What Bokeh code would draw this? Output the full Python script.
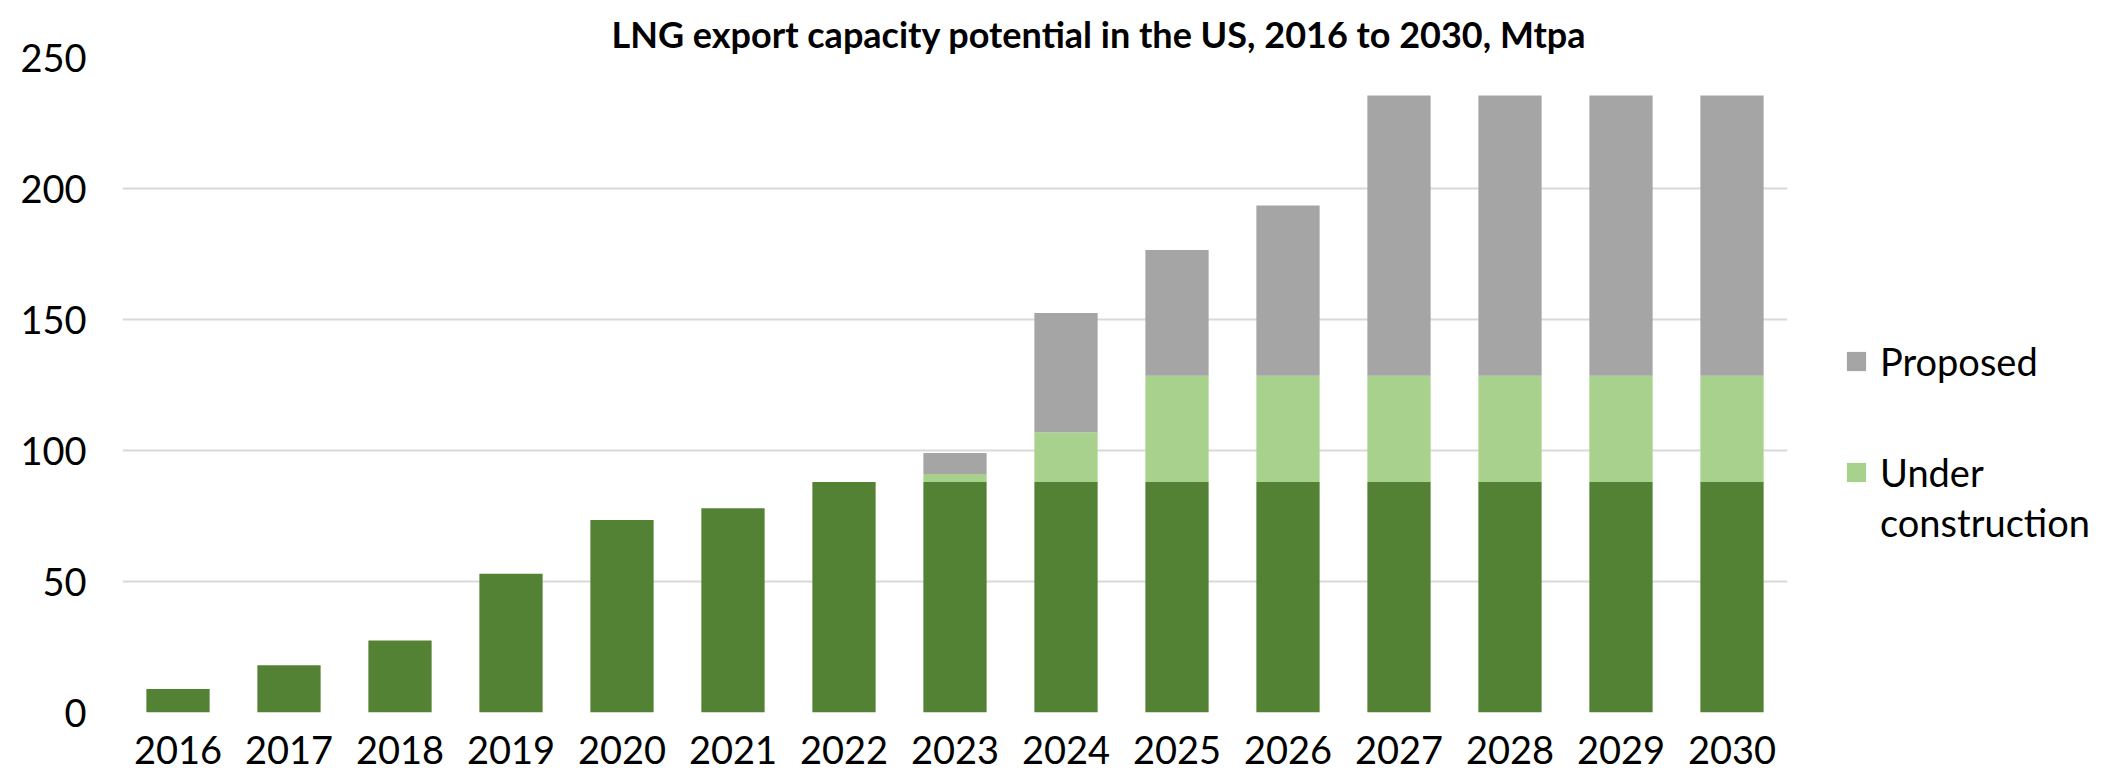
from bokeh.plotting import figure
from bokeh.layouts import row
from bokeh.models import ColumnDataSource, FactorRange, Range1d, Legend, LegendItem, FixedTicker
from bokeh.embed import file_html
from bokeh.resources import INLINE

years = [str(y) for y in range(2016, 2031)]
operational = [9, 18, 27.5, 53, 73.5, 78, 88, 88, 88, 88, 88, 88, 88, 88, 88]
under_construction = [0, 0, 0, 0, 0, 0, 0, 3, 19, 40.5, 40.5, 40.5, 40.5, 40.5, 40.5]
proposed = [0, 0, 0, 0, 0, 0, 0, 8, 45.5, 48, 65, 107, 107, 107, 107]
series = ["operational", "under_construction", "proposed"]
colors = ["#548235", "#A9D18E", "#A5A5A5"]
y_ticks = [0, 50, 100, 150, 200, 250]

FONT = "Lato"

source = ColumnDataSource(dict(years=years, operational=operational,
                               under_construction=under_construction, proposed=proposed))

p = figure(x_range=FactorRange(*years, range_padding=0), y_range=Range1d(0, 250),
           width=1797, height=784, output_backend="svg", toolbar_location=None,
           min_border_left=122, min_border_right=10, min_border_top=57, min_border_bottom=72)

renderers = p.vbar_stack(series, x="years", width=0.57, color=colors, line_color=None,
                         source=source)

p.title.text = "LNG export capacity potential in the US, 2016 to 2030, Mtpa"
p.title.text_font = FONT
p.title.text_font_style = "bold"
p.title.text_font_size = "36px"
p.title.align = "left"
p.title.offset = 489
p.title.standoff = 4
p.title.text_color = "#000000"

p.yaxis.ticker = FixedTicker(ticks=y_ticks)
for ax in (p.xaxis[0], p.yaxis[0]):
    ax.axis_line_color = None
    ax.major_tick_line_color = None
    ax.minor_tick_line_color = None
    ax.major_tick_out = 0
    ax.major_tick_in = 0
    ax.major_label_text_font = FONT
    ax.major_label_text_font_size = "38px"
    ax.major_label_text_color = "#000000"
p.yaxis.major_label_standoff = 36
p.xaxis.major_label_standoff = 23

p.xgrid.grid_line_color = None
p.ygrid.grid_line_color = "#D9D9D9"
p.ygrid.grid_line_width = 2
p.outline_line_color = None

# legend panel to the right of the plot; its key renderers share the data but are hidden
lg = figure(width=317, height=784, x_range=FactorRange(*years), y_range=Range1d(-2, -1),
            output_backend="svg", toolbar_location=None, x_axis_type=None, y_axis_type=None,
            min_border=0)
lg.grid.visible = False
lg.outline_line_color = None
keys = lg.vbar_stack(series, x="years", width=0.57, color=colors, line_color=None,
                     source=source)
key_blank = lg.vbar(x="years", top="operational", width=0.57, source=source,
                    fill_alpha=0, line_alpha=0)
for r in keys + [key_blank]:
    r.visible = False

common = dict(orientation="vertical", glyph_width=24, glyph_height=24, label_standoff=12,
              padding=0, margin=0, border_line_color=None, background_fill_alpha=0,
              inactive_fill_alpha=0,
              label_text_font=FONT, label_text_font_size="38px", label_text_color="#000000")
legend_a = Legend(items=[LegendItem(label="Proposed", renderers=[keys[2]])],
                  location=(47, 328), **common)
legend_b = Legend(items=[LegendItem(label="Under", renderers=[keys[1]]),
                         LegendItem(label="construction", renderers=[key_blank])],
                  location=(47, 167), spacing=4, **common)
lg.add_layout(legend_a)
lg.add_layout(legend_b)

layout = row(p, lg)
open("out.html", "w").write(file_html(layout, INLINE))
